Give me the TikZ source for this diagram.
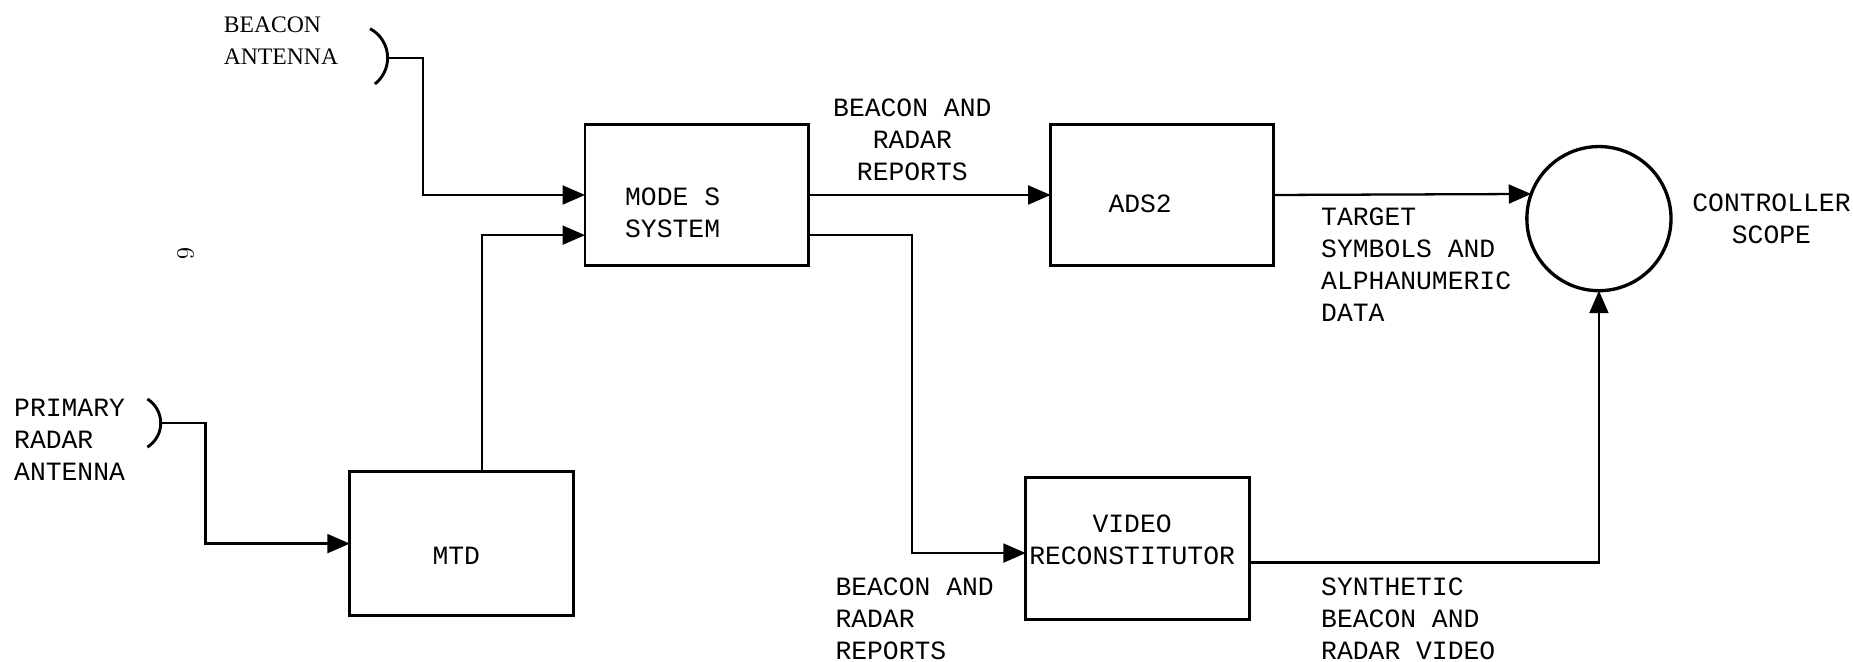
\documentclass[tikz,border=0pt]{standalone}
\usepackage{fontspec}
\newfontfamily\tw{Liberation Mono}
\newfontfamily\sr{Liberation Serif}
\usetikzlibrary{arrows.meta}
\begin{document}
\begin{tikzpicture}[x=0.02cm,y=-0.02cm,
  blk/.style={draw,line width=1.4pt,inner sep=0pt,outer sep=0pt,minimum width=3.78cm,minimum height=2.4cm},
  txt/.style={inner sep=0pt,outer sep=0pt,font=\tw\fontsize{12.7}{15.4}\selectfont},
  conn/.style={line width=1.1pt,-{Triangle[length=0.38cm,width=0.32cm]}},
  ant/.style={line width=1.4pt}]
\useasboundingbox (0,0) rectangle (1568,560);
% boxes
\node[blk] (modes) at (589.5,165) {};
\node[blk] (ads) at (983.5,165) {};
\node[blk,minimum height=2.44cm] (mtd) at (390.5,460) {};
\node[blk] (vr) at (962.5,464) {};
\node[draw,circle,line width=1.6pt,inner sep=0pt,outer sep=0pt,minimum size=2.44cm] (circ) at (1353,185) {};
% box texts
\node[txt,anchor=north west,align=left] (tmodes) at (529,159) {MODE S\\SYSTEM};
\node[txt,anchor=north west] (tads) at (938,165) {ADS2};
\node[txt,anchor=north west] (tmtd) at (366,463) {MTD};
\node[txt,anchor=north,align=center] (tvr) at (958,436) {VIDEO\\RECONSTITUTOR};
% antennas
\coordinate (ba) at (328,49);
\coordinate (pa) at (136,358);
\draw[ant] (ba) arc[start angle=0,end angle=-62,radius=28];
\draw[ant] (ba) arc[start angle=0,end angle=52,radius=28];
\draw[ant] (pa) arc[start angle=0,end angle=-58,radius=24];
\draw[ant] (pa) arc[start angle=0,end angle=58,radius=24];
\node[inner sep=0pt,anchor=north west,align=left,font=\sr\fontsize{11.4}{15.4}\selectfont] (tba) at (189,14) {BEACON\\ANTENNA};
\node[txt,anchor=north west,align=left] (tpa) at (12,338) {PRIMARY\\RADAR\\ANTENNA};
% connectors
\draw[conn] (ba) -- ++(30,0) |- (modes.west);
\draw[conn] (pa) -- ++(38,0) |- (mtd.west);
\draw[conn] ([xshift=0.35cm]mtd.north) |- ([yshift=-0.68cm]modes.west);
\draw[conn] (modes.east) -- (ads.west);
\draw[conn] ([yshift=-0.68cm]modes.east) -- ++(88,0) |- ([yshift=-0.08cm]vr.west);
\draw[conn] (ads.east) -- (circ.160.9);
\draw[conn] ([yshift=-0.24cm]vr.east) -| (circ.south);
% labels
\node[txt,anchor=north,align=center] (l1) at (772,84) {BEACON AND\\RADAR\\REPORTS};
\node[txt,anchor=north west,align=left] (l2) at (1118,176) {TARGET\\SYMBOLS AND\\ALPHANUMERIC\\DATA};
\node[txt,anchor=north,align=center] (l3) at (1499,164) {CONTROLLER\\SCOPE};
\node[txt,anchor=north west,align=left] (l4) at (707,489) {BEACON AND\\RADAR\\REPORTS};
\node[txt,anchor=north west,align=left] (l5) at (1118,489) {SYNTHETIC\\BEACON AND\\RADAR VIDEO};
\node[inner sep=0pt,rotate=-90,font=\fontsize{12}{14}\selectfont] (six) at (157,215) {6};
\end{tikzpicture}
\end{document}
